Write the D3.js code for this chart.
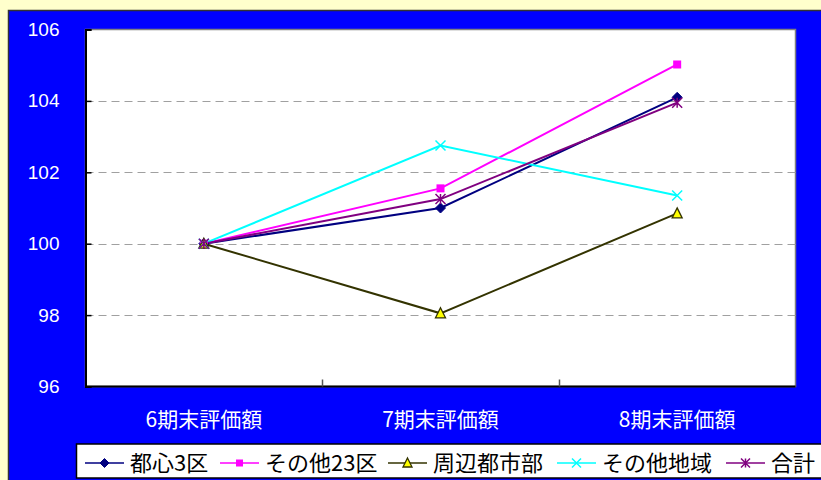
<!DOCTYPE html>
<html>
<head>
<meta charset="utf-8">
<script src="https://cdn.jsdelivr.net/npm/d3@7"></script>
<style>
    body { margin: 0; background: #ffffcc; }
    svg { display: block; }
</style>
</head>
<body>
<div id="chart"></div>
<script>
    // categories and series
    var categories = ["6期末評価額", "7期末評価額", "8期末評価額"];
    var yTicks = [96, 98, 100, 102, 104, 106];
    var seriesNames = ["都心3区", "その他23区", "周辺都市部", "その他地域", "合計"];
    var toshin3 = [100, 101.0, 104.1];
    var other23 = [100, 101.55, 105.02];
    var shuhen = [100, 98.05, 100.85];
    var otherArea = [100, 102.75, 101.35];
    var total = [100, 101.25, 103.95];

    var seriesValues = [toshin3, other23, shuhen, otherArea, total];
    var lineColors = ["#000080", "#ff00ff", "#333300", "#00ffff", "#800080"];
    var markerFill = ["#000080", "#ff00ff", "#ffff00", "none", "none"];
    var markerShape = ["diamond", "square", "triangle", "x", "star"];

    var W = 821, H = 480;
    var plot = { left: 85.5, right: 795.5, top: 29.5, bottom: 386.5 };

    var svg = d3.select("#chart")
        .append("svg")
        .attr("width", W)
        .attr("height", H);

    // outer light-yellow page + blue chart area
    svg.append("rect")
        .attr("x", 0).attr("y", 0)
        .attr("width", W).attr("height", H)
        .attr("fill", "#ffffcc");
    svg.append("rect")
        .attr("x", 8.5).attr("y", 10.5)
        .attr("width", W).attr("height", H)
        .attr("fill", "#0000ff")
        .attr("stroke", "#333")
        .attr("stroke-width", 1.5);

    // plot area
    svg.append("rect")
        .attr("x", plot.left).attr("y", plot.top)
        .attr("width", plot.right - plot.left)
        .attr("height", plot.bottom - plot.top)
        .attr("fill", "#fff")
        .attr("stroke", "#808080")
        .attr("stroke-width", 1.5);

    var x = d3.scaleBand()
        .domain(categories)
        .range([plot.left, plot.right]);
    var y = d3.scaleLinear()
        .domain([96, 106])
        .range([plot.bottom, plot.top]);

    function cx(i) {
        return x(categories[i]) + x.bandwidth() / 2;
    }

    // dashed gridlines
    svg.append("g")
        .selectAll("line")
        .data(yTicks.filter(function(d) { return d > 96 && d < 106; }))
        .enter()
        .append("line")
        .attr("x1", plot.left)
        .attr("x2", plot.right)
        .attr("y1", function(d) { return Math.round(y(d)) + 0.5; })
        .attr("y2", function(d) { return Math.round(y(d)) + 0.5; })
        .attr("stroke", "#a0a0a0")
        .attr("stroke-width", 1)
        .attr("stroke-dasharray", "8,5");

    // Y axis: ticks point inward, white labels
    var yAxis = svg.append("g")
        .attr("transform", "translate(" + plot.left + ",0)")
        .call(d3.axisLeft(y).tickValues(yTicks).tickSize(-6).tickPadding(26).tickFormat(d3.format("d")));
    yAxis.select(".domain").attr("stroke", "#000").attr("stroke-width", 2);
    yAxis.selectAll(".tick line").attr("stroke", "#000").attr("stroke-width", 1.5);
    yAxis.selectAll("text")
        .attr("fill", "#fff")
        .style("font-family", "'Liberation Sans', Arial, sans-serif")
        .style("font-size", "19px");

    // X axis: tick marks at band boundaries, pointing inward
    var xAxis = svg.append("g")
        .attr("transform", "translate(0," + plot.bottom + ")");
    xAxis.append("line")
        .attr("x1", plot.left).attr("x2", plot.right)
        .attr("stroke", "#000").attr("stroke-width", 2);
    xAxis.selectAll("line.tick")
        .data(categories.slice(1))
        .enter()
        .append("line")
        .attr("class", "tick")
        .attr("x1", function(d) { return Math.round(x(d)) + 0.5; })
        .attr("x2", function(d) { return Math.round(x(d)) + 0.5; })
        .attr("y1", 0).attr("y2", -7)
        .attr("stroke", "#555").attr("stroke-width", 1.5);
    xAxis.selectAll("text")
        .data(categories)
        .enter()
        .append("text")
        .attr("x", function(d) { return x(d) + x.bandwidth() / 2; })
        .attr("y", 33)
        .attr("dy", ".35em")
        .attr("text-anchor", "middle")
        .attr("fill", "#fff")
        .style("font-family", "'Noto Sans CJK JP', sans-serif")
        .style("font-size", "21px")
        .text(function(d) { return d; });

    // marker drawing
    function drawMarker(g, shape, color, fill, size) {
        var s = size / 2;
        if (shape == "diamond") {
            g.append("path")
                .attr("d", "M0," + (-s - 1) + "L" + (s + 1) + ",0L0," + (s + 1) + "L" + (-s - 1) + ",0Z")
                .attr("fill", fill).attr("stroke", color).attr("stroke-width", 1);
        } else if (shape == "square") {
            g.append("rect")
                .attr("x", -s).attr("y", -s)
                .attr("width", size).attr("height", size)
                .attr("fill", fill);
        } else if (shape == "triangle") {
            g.append("path")
                .attr("d", "M0," + (-s - 1) + "L" + (s + 0.5) + "," + (s) + "L" + (-s - 0.5) + "," + (s) + "Z")
                .attr("fill", fill).attr("stroke", color).attr("stroke-width", 1.3);
        } else if (shape == "x") {
            g.append("path")
                .attr("d", "M" + (-s) + "," + (-s) + "L" + s + "," + s + "M" + s + "," + (-s) + "L" + (-s) + "," + s)
                .attr("stroke", color).attr("stroke-width", 1.5);
        } else if (shape == "star") {
            g.append("path")
                .attr("d", "M" + (-s) + "," + (-s) + "L" + s + "," + s + "M" + s + "," + (-s) + "L" + (-s) + "," + s +
                    "M0," + (-s) + "L0," + s)
                .attr("stroke", color).attr("stroke-width", 1.5);
        }
    }

    function markerSize(k, big) {
        var base = { diamond: 8, square: 8, triangle: 9, x: 10, star: 10 }[markerShape[k]];
        return big ? base : base - 1;
    }

    var line = d3.line()
        .x(function(d, i) { return cx(i); })
        .y(function(d) { return y(d); });

    seriesValues.forEach(function(vals, k) {
        svg.append("path")
            .datum(vals)
            .attr("d", line)
            .attr("fill", "none")
            .attr("stroke", lineColors[k])
            .attr("stroke-width", 2);
    });
    seriesValues.forEach(function(vals, k) {
        vals.forEach(function(v, i) {
            var g = svg.append("g")
                .attr("transform", "translate(" + cx(i) + "," + y(v) + ")");
            drawMarker(g, markerShape[k], lineColors[k], markerFill[k], markerSize(k, true));
        });
    });

    // legend
    var legend = svg.append("g");
    legend.append("rect")
        .attr("x", 76.5).attr("y", 444)
        .attr("width", 760).attr("height", 34)
        .attr("fill", "#fff")
        .attr("stroke", "#000")
        .attr("stroke-width", 1.5);

    var legendX = [85, 220, 388, 557, 726];
    var legendY = 463;
    seriesNames.forEach(function(name, k) {
        var lg = legend.append("g").attr("transform", "translate(" + legendX[k] + "," + legendY + ")");
        lg.append("line")
            .attr("x1", 0).attr("x2", 39)
            .attr("stroke", lineColors[k]).attr("stroke-width", 1.5);
        var m = lg.append("g").attr("transform", "translate(19.5,0)");
        drawMarker(m, markerShape[k], lineColors[k], markerFill[k], markerSize(k, false));
        lg.append("text")
            .attr("x", 45)
            .attr("y", 0)
            .attr("dy", ".36em")
            .attr("fill", "#000")
            .style("font-family", "'Noto Sans CJK JP', sans-serif")
            .style("font-size", "22px")
            .text(name);
    });
</script>
</body>
</html>
